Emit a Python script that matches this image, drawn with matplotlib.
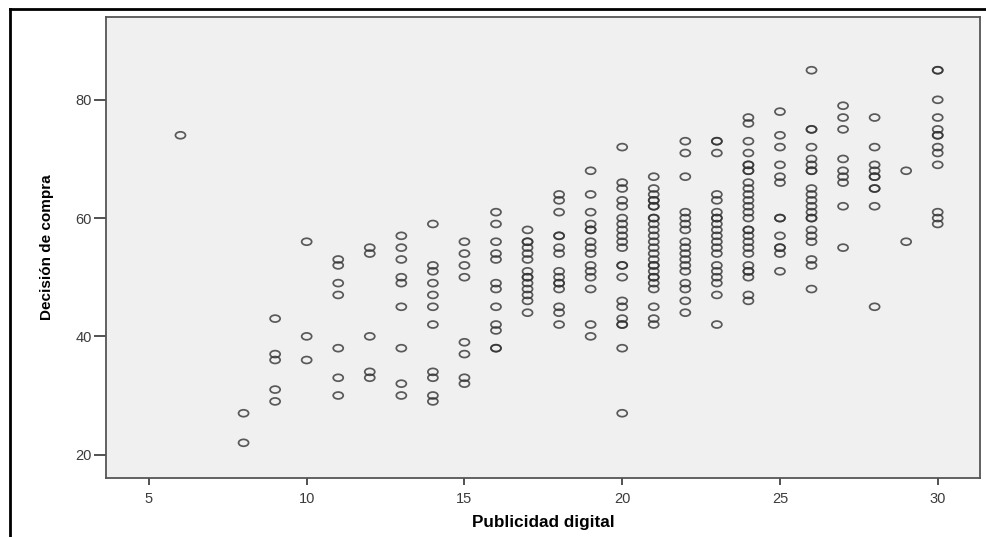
import numpy as np
import matplotlib.pyplot as plt
from matplotlib.path import Path
from matplotlib.transforms import Affine2D
from matplotlib.lines import Line2D

# Publicidad digital (x) y Decisión de compra (y), agrupados por columna
publicidad = [6, 8, 9, 10, 11, 12, 13, 14, 15, 16, 17, 18, 19, 20,
              21, 22, 23, 24, 25, 26, 27, 28, 29, 30]
decision = [
    [74],
    [27, 22],
    [43, 37, 36, 31, 29],
    [56, 40, 36],
    [53, 52, 49, 47, 38, 33, 30],
    [55, 54, 40, 34, 33],
    [57, 55, 53, 50, 49, 45, 38, 32, 30],
    [59, 52, 51, 49, 47, 45, 42, 34, 33, 30, 29],
    [56, 54, 52, 50, 39, 37, 33, 32],
    [61, 59, 56, 54, 53, 49, 48, 45, 42, 41, 38, 38],
    [58, 56, 56, 55, 54, 53, 51, 50, 50, 49, 48, 47, 46, 44],
    [64, 63, 61, 57, 57, 55, 54, 51, 50, 49, 49, 48, 45, 44, 42],
    [68, 64, 61, 59, 58, 58, 56, 55, 54, 52, 51, 50, 48, 42, 40],
    [72, 66, 65, 63, 62, 60, 59, 58, 57, 56, 55, 52, 52, 50, 46, 45,
     43, 42, 42, 38, 27],
    [67, 65, 64, 63, 63, 62, 62, 60, 60, 59, 58, 57, 56, 55, 54, 53,
     52, 52, 51, 50, 50, 49, 48, 45, 43, 42],
    [73, 71, 67, 61, 60, 59, 58, 56, 55, 54, 53, 52, 51, 49, 48, 46, 44],
    [73, 73, 71, 64, 63, 61, 60, 60, 59, 58, 57, 56, 55, 54, 52, 51,
     50, 49, 47, 42],
    [77, 76, 73, 71, 69, 69, 68, 68, 66, 65, 64, 63, 62, 61, 60, 58,
     58, 57, 56, 55, 54, 52, 51, 51, 50, 47, 46],
    [78, 74, 72, 69, 67, 66, 60, 60, 57, 55, 55, 54, 51],
    [85, 75, 75, 72, 70, 69, 68, 68, 65, 64, 63, 62, 61, 60, 60, 58,
     57, 56, 53, 52, 48],
    [79, 77, 75, 70, 68, 67, 66, 62, 55],
    [77, 72, 69, 68, 67, 67, 65, 65, 62, 45],
    [68, 56],
    [85, 85, 80, 77, 75, 74, 74, 72, 71, 69, 61, 60, 59],
]

x_ticks = [5, 10, 15, 20, 25, 30]
y_ticks = [20, 40, 60, 80]

x = np.repeat(publicidad, [len(g) for g in decision])
y = np.concatenate(decision)

# Marcador elíptico como en SPSS
circle = Path.unit_circle()
ellipse = circle.transformed(Affine2D().scale(1.45, 1.0))

fig = plt.figure(figsize=(9.86, 5.37), dpi=100)
ax = fig.add_axes([106 / 986, 1 - 477.7 / 537, 874 / 986, 460.7 / 537])
ax.set_facecolor('#f0f0f0')

ax.scatter(x, y, marker=ellipse, s=52, facecolors='none',
           edgecolors='#333333', linewidths=1.25, alpha=0.8)

ax.set_xlim(3.64, 31.34)
ax.set_ylim(16.1, 94.0)
ax.set_xticks(x_ticks)
ax.set_yticks(y_ticks)

for side in ['top', 'right', 'left', 'bottom']:
    ax.spines[side].set_color('#555555')
    ax.spines[side].set_linewidth(1.3)

ax.tick_params(axis='x', length=5, width=1.2, color='#333333',
               labelsize=10.5, labelcolor='#3c3c3c', pad=5)
ax.tick_params(axis='y', length=9, width=1.2, color='#333333',
               labelsize=10.5, labelcolor='#3c3c3c', pad=1)

ax.set_xlabel('Publicidad digital', fontsize=12.3, fontweight='bold',
              family=['Liberation Sans', 'DejaVu Sans'], labelpad=7)
ax.set_ylabel('Decisión de compra', fontsize=11, fontweight='bold',
              family=['Liberation Sans', 'DejaVu Sans'], labelpad=16)

for lab in ax.get_xticklabels() + ax.get_yticklabels():
    lab.set_family(['Liberation Sans', 'DejaVu Sans'])

# Marco exterior
fig.add_artist(Line2D([10 / 986, 10 / 986], [0, 1 - 9 / 537],
                      transform=fig.transFigure, color='black', lw=2))
fig.add_artist(Line2D([10 / 986, 1], [1 - 9 / 537, 1 - 9 / 537],
                      transform=fig.transFigure, color='black', lw=2))

fig.savefig('out.png', dpi=100)
